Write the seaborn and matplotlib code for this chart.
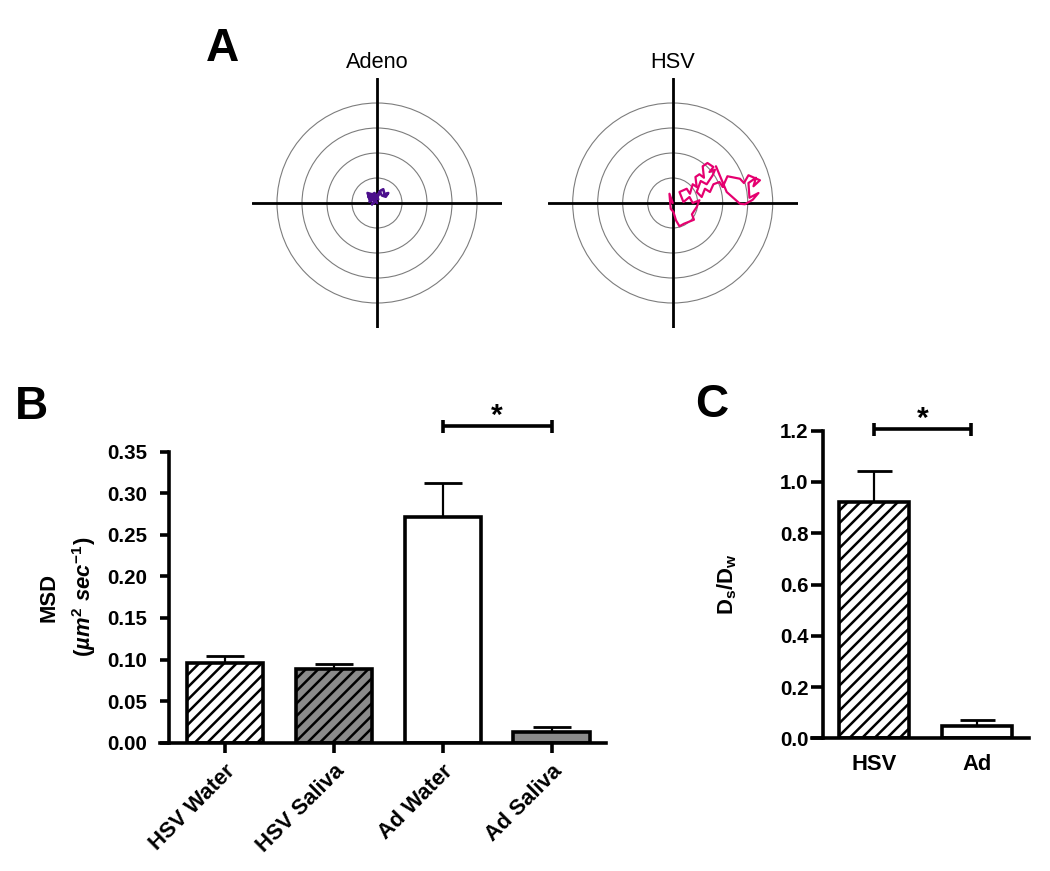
import numpy as np
import pandas as pd
import matplotlib
matplotlib.use("Agg")
import matplotlib.pyplot as plt
from matplotlib.patches import Circle
import seaborn as sns

# ---------------- data ----------------
ring_radii = [1, 2, 3, 4]

adeno_x = [0.0, -0.1, -0.25, -0.35, -0.2, -0.38, -0.3, -0.15, -0.05, -0.2, -0.1, 0.05,
           0.15, 0.25, 0.3, 0.45, 0.35, 0.2, 0.1, 0.0, -0.15, -0.3, -0.25, -0.1, 0.05]
adeno_y = [0.0, 0.15, 0.1, 0.25, 0.35, 0.4, 0.2, 0.3, 0.1, -0.05, 0.05, 0.3,
           0.5, 0.55, 0.35, 0.4, 0.25, 0.3, 0.45, 0.25, 0.2, 0.05, 0.3, 0.4, 0.15]

hsv_x = [0.0, -0.13, -0.08, 0.03, 0.13, 0.27, 0.45, 0.85, 0.77, 0.96, 1.07, 0.80, 0.67,
         0.43, 0.27, 0.56, 0.69, 0.80, 0.96, 0.91, 1.07, 1.25, 1.20, 1.39, 1.63, 1.47,
         1.69, 1.60, 1.36, 1.12, 0.96, 1.16, 1.29, 1.49, 1.63, 1.87, 2.00, 2.19, 2.69,
         2.85, 3.03, 3.49, 3.23, 3.33, 3.03, 3.07, 3.43, 3.20, 2.89, 2.69, 2.16, 1.73]
hsv_y = [0.0, 0.37, -0.23, -0.36, -0.69, -0.93, -0.83, -0.67, -0.45, -0.16, 0.11, 0.0, 0.24,
         0.04, 0.44, 0.57, 0.37, 0.75, 0.64, 1.04, 1.15, 1.01, 1.47, 1.60, 1.44, 1.24,
         1.33, 1.11, 0.75, 0.88, 0.44, 0.24, 0.57, 0.44, 0.75, 0.84, 0.64, 1.07, 0.97,
         0.80, 1.11, 0.91, 0.67, 1.01, 0.80, 0.21, 0.40, 0.13, -0.05, -0.03, 0.44, 1.47]

b_categories = ["HSV Water", "HSV Saliva", "Ad Water", "Ad Saliva"]
b_means = [0.0954, 0.0886, 0.2709, 0.0132]
b_sem = [0.0092, 0.0060, 0.0416, 0.0060]
b_yticks = [0.00, 0.05, 0.10, 0.15, 0.20, 0.25, 0.30, 0.35]
b_bracket = [2, 3]
b_bracket_y = 0.3806

c_categories = ["HSV", "Ad"]
c_means = [0.923, 0.048]
c_sem = [0.120, 0.023]
c_yticks = [0.0, 0.2, 0.4, 0.6, 0.8, 1.0, 1.2]
c_bracket = [0.0, 0.94]
c_bracket_y = 1.205

# ---------------- style ----------------
DPI = 75
W, H = 1050, 871
sns.set_theme(style="white")
plt.rcParams["font.family"] = ["Liberation Sans", "DejaVu Sans"]
plt.rcParams["mathtext.fontset"] = "custom"
plt.rcParams["mathtext.rm"] = "Liberation Sans:bold"
plt.rcParams["mathtext.it"] = "Liberation Sans:bold:italic"
plt.rcParams["mathtext.bf"] = "Liberation Sans:bold"
plt.rcParams["hatch.linewidth"] = 2.4
for k in ["text.color", "axes.labelcolor", "xtick.color", "ytick.color", "axes.edgecolor"]:
    plt.rcParams[k] = "black"


def pt(px):
    return px * 72.0 / DPI


fig = plt.figure(figsize=(W / DPI, H / DPI), dpi=DPI)
fig.patch.set_facecolor("white")


def add_axes_px(left, top, w, h):
    return fig.add_axes([left / W, 1 - (top + h) / H, w / W, h / H])


# ---------------- panel A ----------------
for title, cx, xs, ys, col, lw in [("Adeno", 377, adeno_x, adeno_y, "#4b0f8c", 2.6),
                                   ("HSV", 672.7, hsv_x, hsv_y, "#e5006f", 2.2)]:
    ax = add_axes_px(cx - 125, 203 - 125, 250, 250)
    for r in ring_radii:
        ax.add_patch(Circle((0, 0), r, fill=False, ec="#7c7c7c", lw=pt(1.1)))
    ax.axhline(0, color="black", lw=pt(2.8))
    ax.axvline(0, color="black", lw=pt(2.8))
    sns.lineplot(x=xs, y=ys, sort=False, estimator=None, color=col,
                 lw=pt(lw), ax=ax, legend=False)
    ax.set_xlim(-5, 5)
    ax.set_ylim(-5, 5)
    ax.axis("off")
    ax.set_title(title, fontsize=pt(21.8), pad=pt(10), color="black")

# panel letters
for letter, x, y in [("A", 206, 61), ("B", 15, 419), ("C", 695, 417)]:
    fig.text(x / W, 1 - y / H, letter, fontsize=pt(46), fontweight="bold",
             ha="left", va="baseline", color="black")

LW = pt(3.6)


def style_axes(ax):
    sns.despine(ax=ax)
    for s in ["left", "bottom"]:
        ax.spines[s].set_linewidth(LW)
        ax.spines[s].set_color("black")
    ax.set_facecolor("none")
    ax.set_xlabel("")
    ax.set_ylabel("")


def sig_bracket(ax, xs, y, half_px, ax_h_px):
    y0, y1 = ax.get_ylim()
    d = half_px * (y1 - y0) / ax_h_px
    ax.plot(xs, [y, y], color="black", lw=LW, clip_on=False, solid_capstyle="butt")
    for xb in xs:
        ax.plot([xb, xb], [y - d, y + d], color="black", lw=LW, clip_on=False,
                solid_capstyle="butt")
    ax.annotate("*", xy=(np.mean(xs), y), xycoords="data", xytext=(0, pt(2)),
                textcoords="offset points", ha="center", va="baseline",
                fontsize=pt(30), fontweight="bold", color="black",
                annotation_clip=False)


# ---------------- panel B ----------------
B_H = 742.7 - 451.7
axB = add_axes_px(169.3, 451.7, 606 - 169.3, B_H)
dfB = pd.DataFrame({"cond": b_categories, "msd": b_means})
sns.barplot(data=dfB, x="cond", y="msd", width=0.7, errorbar=None, ax=axB,
            color="white", saturation=1)
b_faces = ["white", "#8a8a8a", "white", "#8a8a8a"]
b_hatch = ["//", "//", "", ""]
for p, fc, h in zip(axB.patches, b_faces, b_hatch):
    p.set_facecolor(fc)
    p.set_edgecolor("black")
    p.set_hatch(h)
    p.set_linewidth(LW)
axB.errorbar(np.arange(len(b_means)), b_means, yerr=[np.zeros(len(b_sem)), b_sem],
             fmt="none", ecolor="black", elinewidth=pt(2.2), capsize=pt(19),
             capthick=pt(2.8), zorder=0.9)
style_axes(axB)
axB.set_xlim(-0.511, 3.5)
axB.set_ylim(0, 0.35)
axB.spines["bottom"].set_bounds(-0.597, 3.5)
axB.set_yticks(b_yticks)
axB.set_yticklabels([f"{v:.2f}" for v in b_yticks], fontweight="bold")
axB.set_xticks(range(len(b_categories)))
axB.set_xticklabels(b_categories, rotation=45, ha="right", rotation_mode="anchor",
                    fontweight="bold")
axB.tick_params(axis="y", direction="out", length=pt(9.3), width=LW, pad=pt(13),
                labelsize=pt(20.5), left=True, color="black", labelcolor="black")
axB.tick_params(axis="x", direction="out", length=pt(10), width=LW, pad=pt(8),
                labelsize=pt(22), bottom=True, color="black", labelcolor="black")
sig_bracket(axB, b_bracket, b_bracket_y, 6.5, B_H)
# y label (two lines)
fig.text(49 / W, 1 - 597 / H, "MSD", rotation=90, ha="center", va="center",
         fontsize=pt(22), fontweight="bold", color="black")
fig.text(84 / W, 1 - 597 / H, r"$\mathit{(µm^2\ sec^{-1})}$", rotation=90,
         ha="center", va="center", fontsize=pt(22), color="black")

# ---------------- panel C ----------------
C_H = 738.3 - 430.7
axC = add_axes_px(823.3, 430.7, 1029.3 - 823.3, C_H)
dfC = pd.DataFrame({"virus": c_categories, "ratio": c_means})
sns.barplot(data=dfC, x="virus", y="ratio", width=0.684, errorbar=None, ax=axC,
            color="white", saturation=1)
c_hatch = ["//", ""]
for p, h in zip(axC.patches, c_hatch):
    p.set_facecolor("white")
    p.set_edgecolor("black")
    p.set_hatch(h)
    p.set_linewidth(LW)
axC.errorbar(np.arange(len(c_means)), c_means, yerr=[np.zeros(len(c_sem)), c_sem],
             fmt="none", ecolor="black", elinewidth=pt(2.2), capsize=pt(17.5),
             capthick=pt(2.8), zorder=0.9)
style_axes(axC)
axC.set_xlim(-0.498, 1.514)
axC.set_ylim(0, 1.2)
axC.spines["bottom"].set_bounds(-0.611, 1.514)
axC.set_yticks(c_yticks)
axC.set_yticklabels([f"{v:.1f}" for v in c_yticks], fontweight="bold")
axC.set_xticks(range(len(c_categories)))
axC.set_xticklabels(c_categories, fontweight="bold")
axC.tick_params(axis="y", direction="out", length=pt(11.7), width=LW, pad=pt(3),
                labelsize=pt(20.5), left=True, color="black", labelcolor="black")
axC.tick_params(axis="x", length=0, pad=pt(16), labelsize=pt(22), labelcolor="black")
sig_bracket(axC, c_bracket, c_bracket_y, 6.5, C_H)
fig.text(726.7 / W, 1 - 584.5 / H, r"$\mathrm{D_s/D_w}$", rotation=90, ha="center",
         va="center", fontsize=pt(22), color="black")

fig.savefig("out.png", dpi=DPI, facecolor="white")
